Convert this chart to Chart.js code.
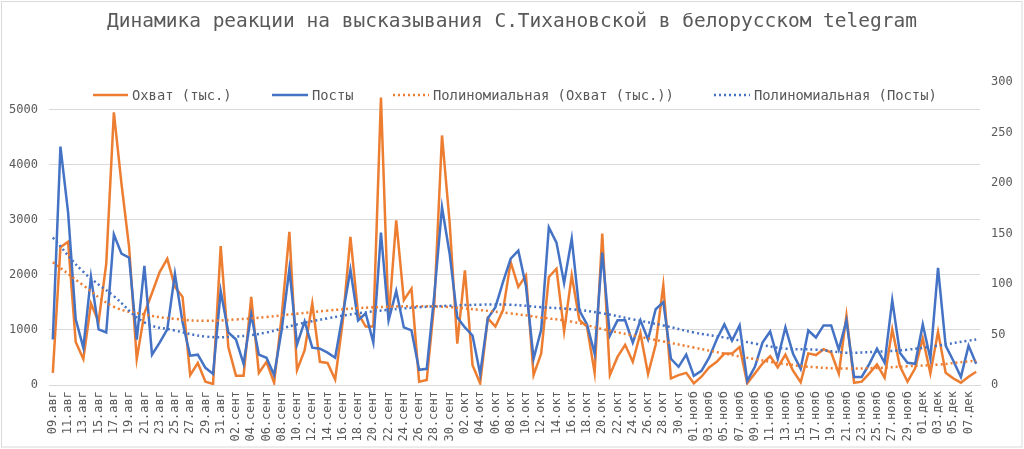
<!DOCTYPE html>
<html><head><meta charset="utf-8">
<script src="https://cdn.jsdelivr.net/npm/chart.js@4.4.1/dist/chart.umd.min.js"></script>
<style>html,body{margin:0;padding:0;background:#fff;}#wrap{width:1024px;height:449px;position:relative;}</style>
</head><body><div id="wrap"><canvas id="c" width="1024" height="449"></canvas></div>
<script>
const chartTitle = 'Динамика реакции на высказывания С.Тихановской в белорусском telegram';
const seriesNames = ['Охват (тыс.)', 'Посты', 'Полиномиальная (Охват (тыс.))', 'Полиномиальная (Посты)'];
const labels = [
'09.авг','10.авг','11.авг','12.авг','13.авг','14.авг','15.авг','16.авг','17.авг','18.авг','19.авг','20.авг','21.авг','22.авг','23.авг','24.авг','25.авг','26.авг','27.авг','28.авг','29.авг','30.авг','31.авг',
'01.сент','02.сент','03.сент','04.сент','05.сент','06.сент','07.сент','08.сент','09.сент','10.сент','11.сент','12.сент','13.сент','14.сент','15.сент','16.сент','17.сент','18.сент','19.сент','20.сент','21.сент','22.сент','23.сент','24.сент','25.сент','26.сент','27.сент','28.сент','29.сент','30.сент',
'01.окт','02.окт','03.окт','04.окт','05.окт','06.окт','07.окт','08.окт','09.окт','10.окт','11.окт','12.окт','13.окт','14.окт','15.окт','16.окт','17.окт','18.окт','19.окт','20.окт','21.окт','22.окт','23.окт','24.окт','25.окт','26.окт','27.окт','28.окт','29.окт','30.окт','31.окт',
'01.нояб','02.нояб','03.нояб','04.нояб','05.нояб','06.нояб','07.нояб','08.нояб','09.нояб','10.нояб','11.нояб','12.нояб','13.нояб','14.нояб','15.нояб','16.нояб','17.нояб','18.нояб','19.нояб','20.нояб','21.нояб','22.нояб','23.нояб','24.нояб','25.нояб','26.нояб','27.нояб','28.нояб','29.нояб','30.нояб',
'01.дек','02.дек','03.дек','04.дек','05.дек','06.дек','07.дек','08.дек'];

const ohvat = [
220,2500,2600,780,470,1480,1150,2200,4950,3650,2500,470,1300,1670,2050,2290,1780,1600,180,400,60,20,2520,
690,170,170,1600,220,420,40,1260,2780,270,630,1480,420,400,100,1160,2690,1300,1060,1060,5220,1180,2990,1540,1750,60,90,1500,4530,2950,
750,2080,360,30,1210,1060,1360,2230,1780,1990,180,570,1960,2110,970,1990,1180,1060,220,2750,180,510,730,420,940,200,730,1810,120,180,220,
30,150,320,420,570,570,690,30,210,390,525,320,550,260,50,574,543,650,590,205,1260,40,60,211,375,133,1009,344,60,302,
846,211,966,223,121,42,151,241];

const posty = [
45,236,171,65,37,107,55,52,149,130,126,45,118,30,42,55,110,62,29,30,17,11,93,
52,45,21,70,30,27,10,55,115,40,63,37,36,32,27,70,114,64,71,42,151,64,93,57,54,15,16,90,176,130,
67,57,49,11,66,77,102,125,133,98,26,55,156,141,101,145,74,60,31,131,49,64,64,42,64,45,75,82,26,18,30,
9,14,27,45,60,44,59,4,18,42,53,26,57,31,16,54,47,59,59,35,64,8,8,21,36,22,84,32,22,21,
60,26,116,39,24,8,39,21];

// trendline values at these category indices
const trendIdx = [0,4,8,12,16,20,24,28,32,36,40,44,48,52,56,60,64,68,72,76,80,84,88,92,96,100,104,108,112,116,120,121];
const trendOhvat = [2230,1810,1420,1280,1200,1165,1190,1235,1295,1350,1395,1420,1430,1415,1360,1300,1225,1150,1015,900,790,680,570,470,380,320,300,310,340,370,430,440];
const trendPosty = [146,112,88,62,54,48,48,52,60,66,71,74.5,77,78.5,79.5,79.5,77,75,71,65,59,52,47,41,36,35,32,33,35,39,44,45];

const leftTicks = [0,1000,2000,3000,4000,5000];
const leftMax = 5500;
const rightTicks = [0,50,100,150,200,250,300];
const rightMax = 300;

const ORANGE = '#ED7D31', BLUE = '#4472C4', TXT = '#595959', GRID = '#d9d9d9';
const FONT = "'DejaVu Sans Mono', 'Liberation Mono', monospace";

function sparse(idx, vals){ const a = new Array(labels.length).fill(null); idx.forEach((k,j)=>{a[k]=vals[j];}); return a; }

const decor = {
  id:'decor',
  beforeDraw(chart){
    const c = chart.ctx; c.save();
    c.fillStyle='#fff'; c.fillRect(0,0,chart.width,chart.height);
    c.strokeStyle=GRID; c.lineWidth=1; c.strokeRect(1.5,1.5,chart.width-3.5,chart.height-3.5);
    c.restore();
  },
  afterDraw(chart){
    const c = chart.ctx; c.save();
    c.fillStyle=TXT; c.textAlign='center'; c.textBaseline='middle';
    c.font = "19.5px " + FONT;
    c.fillText(chartTitle, 512, 22);
    const items = [
      {col:ORANGE, dash:false, x1:93, x2:128, tx:132, t:seriesNames[0]},
      {col:BLUE, dash:false, x1:272, x2:308, tx:312, t:seriesNames[1]},
      {col:ORANGE, dash:true, x1:393, x2:429, tx:433, t:seriesNames[2]},
      {col:BLUE, dash:true, x1:714, x2:750, tx:754, t:seriesNames[3]}
    ];
    const ly = 95;
    c.font = "13.8px " + FONT; c.textAlign='left';
    items.forEach(it=>{
      c.beginPath(); c.strokeStyle=it.col; c.lineWidth=2.5;
      c.setLineDash(it.dash?[2,3]:[]);
      c.moveTo(it.x1, ly); c.lineTo(it.x2, ly); c.stroke();
      c.setLineDash([]);
      c.fillStyle=TXT; c.fillText(it.t, it.tx, ly+1);
    });
    c.restore();
  }
};

Chart.defaults.font.family = FONT;
Chart.defaults.color = TXT;

new Chart(document.getElementById('c'), {
  type:'line',
  data:{
    labels: labels,
    datasets:[
      {label:seriesNames[0], data:ohvat, yAxisID:'y', borderColor:ORANGE, borderWidth:2.5, pointRadius:0, tension:0, order:3},
      {label:seriesNames[1], data:posty, yAxisID:'y1', borderColor:BLUE, borderWidth:2.5, pointRadius:0, tension:0, order:2},
      {label:seriesNames[2], data:sparse(trendIdx,trendOhvat), yAxisID:'y', borderColor:ORANGE, borderWidth:2.5, borderDash:[2,3], pointRadius:0, tension:0.4, spanGaps:true, order:1},
      {label:seriesNames[3], data:sparse(trendIdx,trendPosty), yAxisID:'y1', borderColor:BLUE, borderWidth:2.5, borderDash:[2,3], pointRadius:0, tension:0.4, spanGaps:true, order:0}
    ]
  },
  options:{
    responsive:false, animation:false, devicePixelRatio:1,
    layout:{padding:{top:82,left:0,right:0,bottom:0}},
    plugins:{legend:{display:false}, title:{display:false}, tooltip:{enabled:false}},
    scales:{
      x:{
        offset:true,
        grid:{display:false, drawTicks:false},
        border:{display:true, color:GRID},
        ticks:{autoSkip:false, minRotation:90, maxRotation:90, padding:6, color:TXT, font:{size:12},
          callback:function(v,i){ return i%2===0 ? this.getLabelForValue(v) : ''; }},
        afterFit(s){ s.height = 64; }
      },
      y:{
        position:'left', min:0, max:leftMax,
        grid:{color:GRID, lineWidth:1, drawTicks:false},
        border:{display:false},
        ticks:{padding:11, color:TXT, font:{size:12}, callback:v=>String(v)},
        afterBuildTicks(s){ s.ticks = leftTicks.map(v=>({value:v})); },
        afterFit(s){ s.width = 49; }
      },
      y1:{
        position:'right', min:0, max:rightMax,
        grid:{display:false, drawOnChartArea:false, drawTicks:false},
        border:{display:false},
        ticks:{padding:11, color:TXT, font:{size:12}, callback:v=>String(v)},
        afterBuildTicks(s){ s.ticks = rightTicks.map(v=>({value:v})); },
        afterFit(s){ s.width = 44; }
      }
    }
  },
  plugins:[decor]
});
</script></body></html>
